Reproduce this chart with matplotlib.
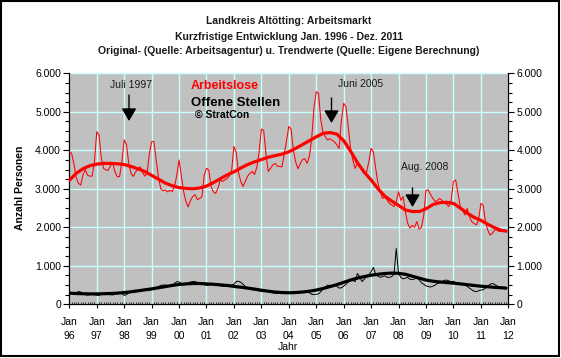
import numpy as np
import matplotlib
matplotlib.use("Agg")
import matplotlib.pyplot as plt
from matplotlib.ticker import FixedLocator, MultipleLocator, FuncFormatter
from matplotlib.patches import Rectangle

plt.rcParams['font.family'] = ['Liberation Sans', 'DejaVu Sans']

# ---------------- data ----------------
start_year = 1996
n_months = 192  # Jan 1996 .. Dec 2011

arbeitslose = [
    3960, 3920, 3650, 3300, 3140, 3100, 3360, 3500, 3350, 3330, 3330, 3700,  # 1996
    4480, 4400, 3800, 3530, 3490, 3480, 3600, 3660, 3440, 3310, 3320, 3700,  # 1997
    4270, 4150, 3660, 3400, 3320, 3440, 3500, 3570, 3430, 3330, 3400, 3900,  # 1998
    4220, 4230, 3750, 3300, 3000, 2950, 2970, 2920, 2960, 2930, 3050, 3350,  # 1999
    3750, 3330, 2930, 2670, 2530, 2700, 2800, 2850, 2720, 2750, 2800, 3350,  # 2000
    3530, 3490, 3060, 2920, 2880, 3010, 3230, 3190, 3230, 3270, 3330, 3480,  # 2001
    4100, 3950, 3420, 3190, 3060, 3200, 3330, 3400, 3450, 3370, 3560, 3950,  # 2002
    4550, 4520, 3920, 3450, 3530, 3620, 3660, 3590, 3580, 3570, 3900, 4250,  # 2003
    4620, 4550, 4000, 3700, 3520, 3650, 3760, 3780, 3660, 3850, 4300, 5100,  # 2004
    5520, 5480, 4790, 4440, 4350, 4270, 4300, 4260, 4220, 4140, 4050, 4790,  # 2005
    5220, 5130, 4610, 4050, 3750, 3530, 3660, 3620, 3490, 3400, 3430, 3700,  # 2006
    4050, 3960, 3530, 3140, 2925, 2750, 2780, 2710, 2620, 2580, 2540, 2670,  # 2007
    2930, 2700, 2800, 2400, 2100, 1980, 2050, 2000, 2150, 1950, 2000, 2300,  # 2008
    2960, 2970, 2850, 2750, 2670, 2700, 2750, 2700, 2620, 2600, 2540, 2700,  # 2009
    3190, 3230, 2880, 2540, 2450, 2320, 2490, 2280, 2150, 2100, 2060, 2190,  # 2010
    2620, 2580, 2150, 1930, 1800, 1840, 1930, 1930, 1890, 1910, 1930, 1910,  # 2011
]

offene_stellen = [
    300, 290, 280, 300, 330, 320, 280, 250, 240, 250, 260, 250,   # 1996
    240, 230, 270, 290, 280, 260, 250, 240, 280, 300, 290, 280,   # 1997
    230, 250, 300, 330, 340, 330, 340, 360, 370, 380, 380, 370,   # 1998
    380, 400, 430, 460, 490, 500, 500, 490, 480, 500, 540, 590,   # 1999
    580, 540, 500, 520, 560, 580, 590, 590, 570, 540, 530, 520,   # 2000
    490, 500, 520, 530, 520, 500, 480, 470, 470, 480, 490, 500,   # 2001
    520, 590, 600, 570, 520, 460, 420, 400, 380, 370, 360, 350,   # 2002
    340, 330, 340, 350, 320, 300, 290, 280, 300, 320, 310, 300,   # 2003
    290, 280, 300, 310, 320, 310, 300, 310, 320, 300, 260, 250,   # 2004
    260, 270, 330, 400, 450, 500, 480, 490, 510, 470, 420, 430,   # 2005
    470, 520, 580, 630, 620, 590, 800, 720, 590, 650, 720, 760,   # 2006
    850, 960, 780, 730, 700, 720, 740, 700, 700, 720, 780, 1450,  # 2007
    800, 700, 660, 680, 700, 650, 640, 660, 680, 640, 560, 520,   # 2008
    480, 460, 450, 470, 500, 540, 560, 590, 620, 630, 610, 580,   # 2009
    600, 560, 540, 530, 520, 500, 470, 420, 380, 340, 330, 350,   # 2010
    370, 380, 420, 470, 520, 540, 520, 480, 450, 430, 420, 410,   # 2011
]

# trend values, quarterly (Jan, Apr, Jul, Oct) plus Dec 2011
trend_arbeitslose = [
    3220, 3400, 3520, 3600,   # 1996
    3640, 3660, 3660, 3650,   # 1997
    3630, 3580, 3520, 3450,   # 1998
    3350, 3250, 3150, 3080,   # 1999
    3030, 3010, 3000, 3020,   # 2000
    3070, 3160, 3260, 3360,   # 2001
    3440, 3540, 3630, 3700,   # 2002
    3760, 3820, 3860, 3900,   # 2003
    3960, 4050, 4150, 4250,   # 2004
    4350, 4440, 4460, 4420,   # 2005
    4250, 3980, 3680, 3430,   # 2006
    3230, 3000, 2810, 2680,   # 2007
    2570, 2450, 2410, 2410,   # 2008
    2480, 2590, 2640, 2650,   # 2009
    2620, 2500, 2370, 2260,   # 2010
    2180, 2080, 1990, 1920,   # 2011
    1900,                     # Dec 2011
]

trend_offene = [
    290, 280, 275, 270,   # 1996
    270, 275, 280, 290,   # 1997
    305, 325, 350, 375,   # 1998
    400, 430, 460, 490,   # 1999
    515, 530, 540, 540,   # 2000
    530, 520, 505, 490,   # 2001
    465, 445, 420, 395,   # 2002
    365, 340, 318, 305,   # 2003
    300, 305, 320, 340,   # 2004
    370, 410, 460, 510,   # 2005
    570, 630, 680, 720,   # 2006
    755, 780, 800, 810,   # 2007
    805, 780, 730, 680,   # 2008
    630, 600, 580, 565,   # 2009
    550, 530, 510, 490,   # 2010
    470, 455, 440, 430,   # 2011
    420,                  # Dec 2011
]

year_ticks = list(range(1996, 2013))
year_labels = ["Jan\n%02d" % (y % 100) for y in year_ticks]

# ---------------- figure ----------------
W, H = 561, 358
fig = plt.figure(figsize=(W / 100, H / 100), dpi=100, facecolor='white')

def px(x, y):
    return x / W, 1 - y / H

left, right, top, bottom = 69.3, 508.3, 73.3, 304.3
ax = fig.add_axes([left / W, 1 - bottom / H, (right - left) / W, (bottom - top) / H])
ax.set_facecolor('#C0C0C0')

x_month = start_year + np.arange(n_months) / 12.0
trend_idx = list(range(0, n_months, 3)) + [n_months - 1]
x_trend = start_year + np.array(trend_idx) / 12.0

ax.plot(x_month, arbeitslose, color='#FF0000', lw=0.75, zorder=3)
ax.plot(x_trend, trend_arbeitslose, color='#FF0000', lw=2.3, zorder=4,
        solid_capstyle='round', solid_joinstyle='round')
ax.plot(x_month, offene_stellen, color='black', lw=0.7, zorder=3)
ax.plot(x_trend, trend_offene, color='black', lw=2.3, zorder=4,
        solid_capstyle='round', solid_joinstyle='round')

ax.set_xlim(1996, 2012)
ax.set_ylim(0, 6000)

ax.xaxis.set_major_locator(FixedLocator(year_ticks))
ax.set_xticklabels(year_labels)
ax.xaxis.set_minor_locator(MultipleLocator(1 / 12))
ax.yaxis.set_major_locator(MultipleLocator(1000))
ax.yaxis.set_minor_locator(MultipleLocator(250))
ax.yaxis.set_major_formatter(FuncFormatter(lambda v, p: f"{int(v):,}".replace(",", ".")))

ax.grid(True, which='major', color='#C8FFFF', lw=1.0, zorder=1)
ax.set_axisbelow(True)

ax.tick_params(axis='y', which='both', direction='out', left=True, right=True,
               labelleft=True, labelright=True, labelsize=7.5, color='black')
ax.tick_params(axis='y', which='major', length=4, width=0.8, pad=2)
ax.tick_params(axis='y', which='minor', length=3, width=0.8)
ax.tick_params(axis='x', which='major', direction='out', length=3, width=0.8,
               labelsize=7.5, pad=6)
ax.tick_params(axis='x', which='minor', direction='in', length=1.5, width=0.6)
for lab in ax.get_xticklabels():
    lab.set_linespacing(1.55)

for s in ['left', 'right', 'bottom']:
    ax.spines[s].set_color('black')
    ax.spines[s].set_linewidth(0.9)
ax.spines['top'].set_visible(False)

# ---------------- texts ----------------
titles = ["Landkreis Altötting: Arbeitsmarkt",
          "Kurzfristige Entwicklung Jan. 1996 - Dez. 2011",
          "Original- (Quelle: Arbeitsagentur) u. Trendwerte (Quelle: Eigene Berechnung)"]
for t, yy in zip(titles, [21.5, 36.5, 51.5]):
    fig.text(*px(289, yy), t, ha='center', va='center', fontsize=7.5,
             fontweight='bold', color='#1a1a1a')

fig.text(*px(20, 188), "Anzahl Personen", rotation=90, ha='center', va='center',
         fontsize=7.5, fontweight='bold')
fig.text(*px(288, 346.5), "Jahr", ha='center', va='center', fontsize=7.5)

fig.text(*px(191, 86), "Arbeitslose", ha='left', va='center', fontsize=9,
         fontweight='bold', color='#FF0000')
fig.text(*px(191, 102.5), "Offene Stellen", ha='left', va='center', fontsize=9.5,
         fontweight='bold', color='black')
fig.text(*px(195, 114.5), "© StratCon", ha='left', va='center', fontsize=7.5,
         fontweight='bold', color='black')

def to_data(xp, yp):
    return (start_year + (xp - left) / (right - left) * 16,
            (bottom - yp) / (bottom - top) * 6000)

arrows = [("Juli 1997", (131, 85), 129, 95, 121),
          ("Juni 2005", (361, 84), 331.5, 98, 123),
          ("Aug. 2008", (425, 166.5), 412.5, 188, 207)]
for label, (tx, ty), ax_x, y0, y1 in arrows:
    ax.text(*to_data(tx, ty), label, ha='center', va='center', fontsize=7.5,
            color='#1a1a1a', zorder=6)
    ax.annotate('', xy=to_data(ax_x, y1), xytext=to_data(ax_x, y0),
                arrowprops=dict(arrowstyle='-|>,head_length=0.85,head_width=0.5',
                                color='black', lw=1.0, shrinkA=0, shrinkB=0,
                                mutation_scale=9), zorder=6)

fig.add_artist(Rectangle((1 / W, 2 / H), 558 / W, 355 / H, transform=fig.transFigure,
                         fill=False, lw=1.5, edgecolor='black'))

fig.savefig("out.png", dpi=100, facecolor='white')
